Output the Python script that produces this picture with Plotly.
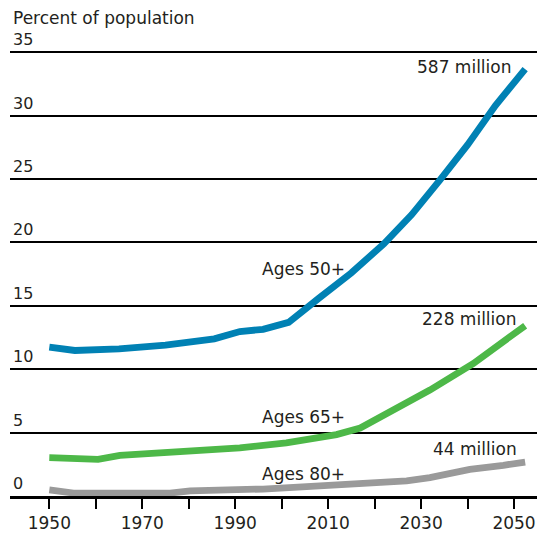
import plotly.graph_objects as go

# Series (percent of population)
years_50 = [1950, 1955.5, 1965, 1975, 1985.5, 1991, 1996, 2001.5, 2008, 2015, 2022, 2028, 2034, 2040, 2046, 2052.4]
ages_50 = [11.75, 11.48, 11.6, 11.9, 12.4, 12.97, 13.15, 13.7, 15.6, 17.6, 19.9, 22.2, 24.9, 27.7, 30.8, 33.67]

years_65 = [1950, 1960.5, 1965.2, 1976, 1981, 1991, 2001, 2006.8, 2011.8, 2016.9, 2023.3, 2031.9, 2041.2, 2047.7, 2052.4]
ages_65 = [3.02, 2.89, 3.2, 3.41, 3.62, 3.8, 4.19, 4.58, 4.84, 5.36, 6.66, 8.36, 10.44, 12.27, 13.44]

years_80 = [1950, 1955.2, 1976, 1980.3, 1996, 2010.4, 2026.9, 2031.9, 2040.5, 2047.7, 2052.4]
ages_80 = [0.49, 0.23, 0.23, 0.41, 0.55, 0.8, 1.2, 1.45, 2.1, 2.42, 2.68]

y_ticks = [0, 5, 10, 15, 20, 25, 30, 35]
x_ticks = list(range(1950, 2051, 10))
x_labels = [str(y) if (y - 1950) % 20 == 0 else "" for y in x_ticks]

FONT = "DejaVu Sans"
TEXT = "#231f20"

fig = go.Figure()

series = [
    (years_80, ages_80, "#9a9a9a"),
    (years_65, ages_65, "#4db848"),
    (years_50, ages_50, "#0081b4"),
]
for xs, ys, color in series:
    fig.add_trace(go.Scatter(x=xs, y=ys, mode="lines",
                             line=dict(color=color, width=6.8),
                             hoverinfo="skip", showlegend=False))

# y labels sit above their gridlines on the left
for v in y_ticks:
    fig.add_annotation(x=0, xref="paper", xanchor="left", xshift=1,
                       y=v, yref="y", yanchor="middle", yshift=12.5,
                       text=str(v), showarrow=False,
                       font=dict(family=FONT, size=16, color=TEXT))

fig.add_annotation(x=0, xref="paper", xanchor="left", xshift=1,
                   y=1, yref="paper", yanchor="middle", yshift=28,
                   text="Percent of population", showarrow=False,
                   font=dict(family=FONT, size=17, color=TEXT))

# series labels
labels = [
    (2004.7, 17.94, "Ages 50+", "center"),
    (2004.7, 6.27, "Ages 65+", "center"),
    (2004.7, 1.72, "Ages 80+", "center"),
    (2049.8, 33.85, "587 million", "right"),
    (2050.9, 13.95, "228 million", "right"),
    (2051.1, 3.67, "44 million", "right"),
]
for x, y, t, anchor in labels:
    fig.add_annotation(x=x, y=y, text=t, showarrow=False, xanchor=anchor,
                       yanchor="middle",
                       font=dict(family=FONT, size=17, color=TEXT))

fig.update_layout(
    width=537, height=533,
    margin=dict(l=10, r=0, t=45.6, b=32.7),
    plot_bgcolor="white", paper_bgcolor="white",
    font=dict(family=FONT, color=TEXT),
)

fig.update_xaxes(
    range=[1941.54, 2054.95],
    tickvals=x_ticks, ticktext=x_labels,
    ticks="outside", ticklen=10, tickwidth=2, tickcolor="black",
    showline=True, linecolor="black", linewidth=2.5,
    showgrid=False, zeroline=False,
    tickfont=dict(family=FONT, size=17, color=TEXT),
)

fig.update_yaxes(
    range=[0, 35.5],
    tickvals=y_ticks, showticklabels=False,
    showgrid=True, gridcolor="black", gridwidth=2,
    zeroline=False,
)

# drop the default page margin so the figure sits at the window's corner
fig.write_html("out.html", config={"displayModeBar": False},
               post_script="document.body.style.margin='0';")
